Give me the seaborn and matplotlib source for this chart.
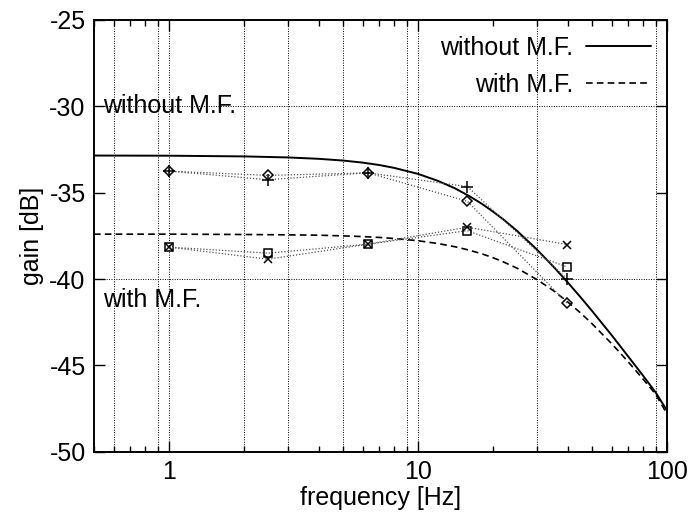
import matplotlib
matplotlib.use("Agg")
import matplotlib.pyplot as plt
import seaborn as sns

# smooth model curves
freq_curve = [0.5, 1, 2, 3, 4, 5, 6, 7, 8, 10, 12, 14, 16, 18, 20, 22, 25, 30, 35,
              40, 45, 50, 60, 70, 80, 90, 100]
gain_without = [-32.85, -32.86, -32.90, -32.96, -33.04, -33.14, -33.26, -33.40, -33.56,
                -33.91, -34.31, -34.73, -35.18, -35.63, -36.09, -36.54, -37.21, -38.28,
                -39.28, -40.20, -41.05, -41.84, -43.25, -44.49, -45.57, -46.55, -47.6]
gain_with = [-37.40, -37.40, -37.42, -37.44, -37.46, -37.50, -37.54, -37.59, -37.65,
             -37.78, -37.94, -38.12, -38.32, -38.53, -38.76, -39.00, -39.37, -40.02,
             -40.67, -41.33, -41.96, -42.58, -43.74, -44.80, -45.77, -46.66, -47.8]

# measured points
freq_meas = [1, 2.5, 6.3, 15.8, 39.8]
without_diamond = [-33.75, -34.0, -33.85, -35.5, -41.4]
without_plus = [-33.75, -34.25, -33.85, -34.65, -40.0]
with_square = [-38.15, -38.5, -37.98, -37.2, -39.3]
with_cross = [-38.15, -38.85, -37.98, -37.0, -38.0]

vgrid = [0.6, 0.9, 1, 2, 3, 5, 9, 10, 30, 90]
hgrid = [-30, -40]
yticks = [-25, -30, -35, -40, -45, -50]
xticks = [1, 10, 100]

sns.set_style("ticks")
plt.rcParams["font.family"] = ["Liberation Sans", "DejaVu Sans"]
plt.rcParams["axes.unicode_minus"] = False
for k in ["text.color", "axes.labelcolor", "xtick.color", "ytick.color",
          "xtick.labelcolor", "ytick.labelcolor"]:
    plt.rcParams[k] = "black"

fs = 18
fig = plt.figure(figsize=(6.94, 5.17), dpi=100)
ax = fig.add_axes([0.1354, 0.126, 0.8256, 0.8355])
ax.set_xscale("log")

for v in vgrid:
    ax.axvline(v, color="black", linestyle=(0, (1, 1.5)), linewidth=0.7, zorder=0)
for h in hgrid:
    ax.axhline(h, color="black", linestyle=(0, (1, 1.5)), linewidth=0.7, zorder=0)

sns.lineplot(x=freq_curve, y=gain_without, ax=ax, color="black", linewidth=1.4,
             label="without M.F.")
sns.lineplot(x=freq_curve, y=gain_with, ax=ax, color="black", linewidth=1.2,
             linestyle=(0, (4, 2.5)), label="with M.F.")

pts = [(without_diamond, "D", 5, "none"), (without_plus, "+", 8, "black"),
       (with_square, "s", 6, "none"), (with_cross, "x", 6, "black")]
for vals, mk, ms, fc in pts:
    sns.lineplot(x=freq_meas, y=vals, ax=ax, color="#555555", linewidth=0.9,
                 linestyle=(0, (1, 1.5)), marker=mk, markersize=ms,
                 markerfacecolor=fc, markeredgecolor="black", markeredgewidth=1.1,
                 legend=False)

ax.text(0.545, -30, "without M.F.", fontsize=fs, va="center", ha="left")
ax.text(0.545, -41.2, "with M.F.", fontsize=fs, va="center", ha="left")

ax.set_xlim(0.5, 100)
ax.set_ylim(-50, -25)
ax.set_xticks(xticks)
ax.set_xticklabels([str(t) for t in xticks])
ax.set_yticks(yticks)
ax.set_yticklabels([str(t) for t in yticks])
ax.tick_params(which="both", direction="in", top=True, right=True, labelsize=fs,
               color="black", labelcolor="black", width=1)
ax.tick_params(which="major", length=8, pad=6)
ax.tick_params(which="minor", length=4)
for s in ax.spines.values():
    s.set_linewidth(1.4)
    s.set_color("black")

ax.set_xlabel("frequency [Hz]", fontsize=fs, labelpad=1)
ax.set_ylabel("gain [dB]", fontsize=fs, labelpad=4)

leg = ax.legend(loc="upper right", frameon=False, markerfirst=False, fontsize=fs,
                handlelength=2.6, handletextpad=0.5, labelspacing=0.5,
                borderaxespad=0.25)
for t in leg.get_texts():
    t.set_ha("right")
    t.set_color("black")

fig.savefig("out.png", dpi=100)
